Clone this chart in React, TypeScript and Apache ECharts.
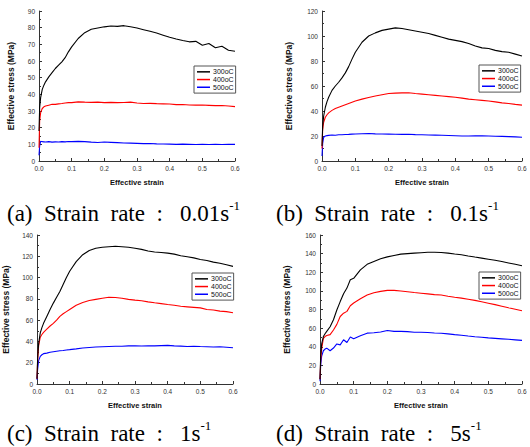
import React, { useEffect, useRef } from "react";
import * as echarts from "echarts";

const strain = [0, 0.002, 0.005, 0.01, 0.015, 0.02, 0.03, 0.04, 0.05, 0.06, 0.07, 0.08, 0.09, 0.1, 0.12, 0.14, 0.16, 0.18, 0.2, 0.22, 0.24, 0.26, 0.28, 0.3, 0.32, 0.34, 0.36, 0.38, 0.4, 0.42, 0.44, 0.46, 0.48, 0.5, 0.52, 0.54, 0.56, 0.58, 0.6];

const seriesNames = ["300oC", "400oC", "500oC"];
const seriesColors = ["#000000", "#ff0000", "#0000ff"];

// (a) 0.01 s^-1
const a300 = [18, 32, 38, 43, 45.5, 47.5, 50.5, 53, 55.5, 57.5, 59.5, 62, 65.5, 68.5, 73.5, 77, 79, 79.8, 80.5, 81, 80.8, 81.2, 80.5, 79.8, 78.8, 77.8, 76.8, 75.5, 74.2, 73.2, 72.3, 71.5, 71.8, 69.5, 70.5, 68, 68.8, 66.5, 65.8];
const a400 = [8, 24, 29, 31.5, 32.5, 33, 33.5, 34, 34, 34.3, 34.5, 34.8, 35, 35, 35.5, 35.3, 35.2, 35.3, 35, 35.2, 35, 35.1, 35.3, 34.8, 34.5, 34.6, 34.4, 34.3, 34.2, 33.8, 33.9, 33.6, 33.5, 33.6, 33.4, 33.2, 33.3, 33, 32.6];
const a500 = [3.5, 9, 11.8, 11.6, 11.5, 11.4, 11.6, 11.3, 11.5, 11.4, 11.6, 11.5, 11.7, 11.6, 11.8, 11.6, 11.3, 11.1, 11.4, 11.2, 11, 10.8, 10.7, 10.6, 10.4, 10.5, 10.3, 10.2, 10.1, 10, 10.1, 10, 9.9, 10, 9.9, 10, 9.9, 10, 10];

// (b) 0.1 s^-1
const b300 = [12, 28, 36, 43, 47.5, 51, 56.5, 60, 63, 66.5, 70.5, 75.5, 81.5, 87, 95, 100, 102.5, 104.5, 105.5, 106.5, 106, 105, 104, 103, 102, 100.5, 99, 97.5, 96.5, 95.5, 94, 92, 90.5, 90, 88.5, 87.5, 87, 85.5, 84];
const b400 = [10, 25, 31, 35, 37, 38.5, 40.5, 42, 43, 44, 45, 46, 47, 48, 49.5, 50.8, 52, 53, 54, 54.3, 54.5, 54.6, 54, 53.5, 53, 52.5, 52, 51.5, 51, 50.3, 49.5, 49, 48.5, 48, 47.3, 46.5, 46, 45.3, 44.7];
const b500 = [4, 14, 19, 20, 20.3, 20.5, 20.8, 20.6, 21, 21, 21.2, 21.3, 21.5, 21.6, 21.8, 22, 21.7, 21.6, 21.5, 21.4, 21.3, 21.4, 21.1, 21, 20.8, 20.7, 20.6, 20.4, 20.2, 20, 20, 20.2, 20.1, 20, 19.8, 19.7, 19.5, 19.3, 19];

// (c) 1 s^-1
const c300 = [5, 25, 38, 48, 53, 57, 63.5, 70, 76, 81.5, 87, 93.5, 100, 106, 115, 121.5, 125.5, 127.5, 128.5, 129, 129.5, 129, 128.5, 127.5, 126.5, 125, 124, 123.5, 123, 122, 120.5, 119.5, 118.5, 117, 116, 114.5, 113.5, 112, 110.5];
const c400 = [5, 22, 36, 44, 46.5, 48.5, 51.5, 54.5, 57, 60, 63.5, 66, 68, 70, 74, 76.5, 78.5, 79.5, 80.5, 81.5, 81.3, 80.5, 79.5, 78.8, 78.2, 77.2, 76.3, 75.5, 74.7, 74, 73, 72.5, 72, 71.5, 70, 69.5, 68.5, 68, 67];
const c500 = [4, 14, 22, 26, 27.5, 28.5, 29, 29.8, 30.3, 30.8, 31.2, 31.5, 32, 32.3, 33, 33.8, 34.3, 34.7, 35, 35.3, 35.5, 35.5, 35.8, 36, 35.7, 36, 35.8, 36.1, 36.3, 35.8, 35.6, 35.3, 35.5, 35.2, 35, 34.8, 35, 34.5, 34];

// (d) 5 s^-1
const d300 = [5, 30, 43, 51, 54, 56.5, 61.5, 69, 79.5, 88.5, 97, 103, 112, 113.5, 122.5, 128.5, 131.5, 134.5, 136.5, 138, 139.5, 140, 140.5, 141, 141.5, 141.5, 141.2, 140.5, 139.6, 138.8, 137.5, 136.3, 135.2, 134, 132.8, 131.5, 130, 128.5, 127];
const d400 = [5, 25, 38, 49, 51, 52, 53, 58, 64, 72.5, 76, 78, 84, 87, 91.5, 95.5, 98, 99.5, 100.5, 100.5, 99.8, 99, 98.2, 97.5, 96.8, 96, 95.5, 94.3, 93.2, 92.2, 91, 89.8, 88.3, 86.8, 85.2, 83.5, 81.8, 80.2, 78.6];
const d500 = [3, 20, 30, 35.7, 37.5, 38.5, 35.7, 38.6, 43, 42, 47.5, 44.6, 50.4, 48.6, 51.8, 54.6, 55, 55.8, 57.5, 56.5, 56.5, 56.2, 55.5, 55.6, 55.3, 54.8, 54.5, 53.8, 53, 52.3, 51.5, 50.8, 50.2, 49.5, 49, 48.5, 48, 47.4, 46.8];

const panelData = [[a300, a400, a500], [b300, b400, b500], [c300, c400, c500], [d300, d400, d500]];
const yMax = [90, 120, 140, 160];
const yInterval = [10, 20, 20, 20];
const captionMain = ["(a)  Strain  rate  :   0.01s", "(b)  Strain  rate  :   0.1s", "(c)  Strain  rate  :   1s", "(d)  Strain  rate  :   5s"];
const captionSup = "-1";

// layout
const grids = [
  { left: 39, top: 11, width: 196, height: 150 },
  { left: 322, top: 11, width: 200, height: 150 },
  { left: 33, top: 235, width: 200, height: 149 },
  { left: 320, top: 235, width: 202, height: 149 },
];
const yNameGap = [24, 29, 27, 29];
const legendPos = [
  { left: 194, top: 66 },
  { left: 479, top: 65 },
  { left: 192, top: 273 },
  { left: 479, top: 272 },
];
const captionPos = [
  { x: 7, y: 212 },
  { x: 276, y: 212 },
  { x: 7, y: 432 },
  { x: 276, y: 432 },
];

export default function App() {
  const ref = useRef<HTMLDivElement>(null);
  useEffect(() => {
    if (!ref.current) return;
    const chart = echarts.init(ref.current, null, { renderer: "svg" });
    const sans = "'Liberation Sans', Arial, sans-serif";
    const serif = "'Liberation Serif', 'Times New Roman', serif";
    const axisColor = "#333";
    const xAxis = grids.map((_, i) => ({
      type: "value",
      gridIndex: i,
      min: 0,
      max: 0.6,
      interval: 0.1,
      name: "Effective strain",
      nameLocation: "middle",
      nameGap: 17,
      nameTextStyle: { fontFamily: sans, fontSize: 7.5, fontWeight: "bold", color: "#111" },
      axisLine: { show: true, onZero: false, lineStyle: { color: axisColor, width: 1 } },
      axisTick: { show: true, inside: true, length: 3, lineStyle: { color: axisColor } },
      minorTick: { show: true, splitNumber: 2, length: 2, lineStyle: { color: axisColor } },
      splitLine: { show: false },
      axisLabel: { fontFamily: sans, fontSize: 6.5, color: "#333", margin: 4, formatter: (v: number) => v.toFixed(1) },
    }));
    const yAxis = grids.map((_, i) => ({
      type: "value",
      gridIndex: i,
      min: 0,
      max: yMax[i],
      interval: yInterval[i],
      name: "Effective stress (MPa)",
      nameLocation: "middle",
      nameGap: yNameGap[i],
      nameTextStyle: { fontFamily: sans, fontSize: 8.5, fontWeight: "bold", color: "#111" },
      axisLine: { show: true, onZero: false, lineStyle: { color: axisColor, width: 1 } },
      axisTick: { show: true, inside: true, length: 3, lineStyle: { color: axisColor } },
      minorTick: { show: true, splitNumber: 2, length: 2, lineStyle: { color: axisColor } },
      splitLine: { show: false },
      axisLabel: { fontFamily: sans, fontSize: 6.5, color: "#333", margin: 4 },
    }));
    const series: any[] = [];
    panelData.forEach((sets, gi) => {
      sets.forEach((vals, si) => {
        series.push({
          type: "line",
          name: seriesNames[si],
          xAxisIndex: gi,
          yAxisIndex: gi,
          data: strain.map((x, k) => [x, vals[k]]),
          showSymbol: false,
          symbol: "none",
          lineStyle: { color: seriesColors[si], width: 1.1 },
          itemStyle: { color: seriesColors[si] },
          z: 3 - si,
        });
      });
    });
    const legend = legendPos.map((p) => ({
      left: p.left,
      top: p.top,
      orient: "vertical",
      data: seriesNames,
      selectedMode: false,
      icon: "rect",
      itemWidth: 13,
      itemHeight: 1.5,
      itemGap: 0,
      padding: [2, 2, 2, 3],
      backgroundColor: "#fff",
      borderColor: "#555",
      borderWidth: 1,
      textStyle: { fontFamily: sans, fontSize: 7, color: "#111", lineHeight: 7.7, padding: [0, 0, 0, -2] },
    }));
    const graphic = captionPos.map((p, i) => ({
      type: "text",
      x: p.x,
      y: p.y,
      style: {
        text: `{m|${captionMain[i]}}{s|${captionSup}}`,
        verticalAlign: "middle",
        rich: {
          m: { fontFamily: serif, fontSize: 23, fill: "#000", lineHeight: 26, verticalAlign: "bottom" },
          s: { fontFamily: serif, fontSize: 13, fill: "#000", lineHeight: 26, verticalAlign: "top" },
        },
      },
    }));
    chart.setOption({
      animation: false,
      backgroundColor: "#fff",
      grid: grids.map((g) => ({ ...g, containLabel: false })),
      xAxis,
      yAxis,
      series,
      legend,
      graphic,
    });
    return () => chart.dispose();
  }, []);
  return (
    <div
      ref={ref}
      style={{ position: "absolute", left: 0, top: 0, width: 530, height: 447, background: "#fff" }}
    />
  );
}
